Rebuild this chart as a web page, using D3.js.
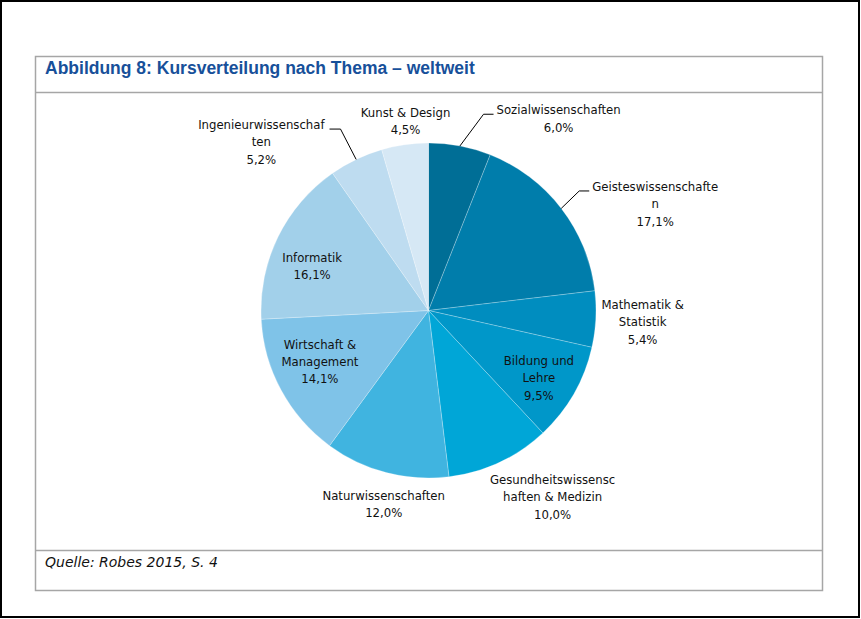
<!DOCTYPE html>
<html>
<head>
<meta charset="utf-8">
<script src="https://cdn.jsdelivr.net/npm/d3@7"></script>
<style>
  html, body { margin: 0; padding: 0; background: #fff; }
  svg { display: block; }
</style>
</head>
<body>
<svg id="chart" width="861" height="619"></svg>
<script>
// ---- data ----
const categories = [
  "Sozialwissenschaften", "Geisteswissenschaften", "Mathematik & Statistik",
  "Bildung und Lehre", "Gesundheitswissenschaften & Medizin", "Naturwissenschaften",
  "Wirtschaft & Management", "Informatik", "Ingenieurwissenschaften", "Kunst & Design"
];
const shares = [6.0, 17.1, 5.4, 9.5, 10.0, 12.0, 14.1, 16.1, 5.2, 4.5];
const shareLabels = ["6,0%", "17,1%", "5,4%", "9,5%", "10,0%", "12,0%", "14,1%", "16,1%", "5,2%", "4,5%"];
// label text as wrapped in the original
const labelLines = [
  ["Sozialwissenschaften"],
  ["Geisteswissenschafte", "n"],
  ["Mathematik &", "Statistik"],
  ["Bildung und", "Lehre"],
  ["Gesundheitswissensc", "haften & Medizin"],
  ["Naturwissenschaften"],
  ["Wirtschaft &", "Management"],
  ["Informatik"],
  ["Ingenieurwissenschaf", "ten"],
  ["Kunst & Design"]
];
const sliceColors = ["#006e96", "#007dab", "#008dbf", "#0097c9", "#00a6d7",
                     "#40b4e0", "#7fc3e8", "#a2d0ea", "#bedcf0", "#d6e8f5"];
const titleText = "Abbildung 8: Kursverteilung nach Thema \u2013 weltweit";
const sourceText = "Quelle: Robes 2015, S. 4";

// ---- layout (label placement: radius factor, pixel nudge, leader line) ----
const labelLayout = [
  {k: 1.15, dx: 94,  dy: -3,   leader: "right"},
  {k: 1.15, dx: 74,  dy: 10.6, leader: "right"},
  {k: 1.28, dx: 0,   dy: 0},
  {k: 0.77, dx: -1.5,dy: 3},
  {k: 1.20, dx: 39,  dy: 4},
  {k: 1.18, dx: 5,   dy: 2},
  {k: 0.72, dx: -2.5,dy: -6.5},
  {k: 0.74, dx: -5,  dy: 10},
  {k: 1.15, dx: -84, dy: 5,    leader: "left"},
  {k: 1.14, dx: 4,   dy: -0.5}
];

const svg = d3.select("#chart");
const W = 861, H = 619;

// outer black frame
svg.append("rect").attr("x", 1).attr("y", 1).attr("width", W - 3).attr("height", H - 3)
  .attr("fill", "none").attr("stroke", "#000").attr("stroke-width", 2);

// inner gray box
const bx0 = 35.5, by0 = 56.5, bx1 = 822.5, by1 = 590.5;
svg.append("rect").attr("x", bx0).attr("y", by0).attr("width", bx1 - bx0).attr("height", by1 - by0)
  .attr("fill", "none").attr("stroke", "#a6a6a6").attr("stroke-width", 1.5);
svg.append("line").attr("x1", bx0).attr("x2", bx1).attr("y1", 92.5).attr("y2", 92.5)
  .attr("stroke", "#a6a6a6").attr("stroke-width", 1.5);
svg.append("line").attr("x1", bx0).attr("x2", bx1).attr("y1", 550.5).attr("y2", 550.5)
  .attr("stroke", "#a6a6a6").attr("stroke-width", 1.5);

// title
svg.append("text").attr("x", 45).attr("y", 73.5)
  .attr("font-family", "'Liberation Sans', Arial, sans-serif").attr("font-weight", "bold")
  .attr("font-size", 17.5).attr("fill", "#17509a").text(titleText);

// source
svg.append("text").attr("x", 45).attr("y", 567)
  .attr("font-family", "'DejaVu Sans', Verdana, sans-serif").attr("font-style", "italic")
  .attr("font-size", 14).attr("fill", "#111").text(sourceText);

// pie
const cx = 428.5, cy = 310.5, R = 167.5;
const g = svg.append("g").attr("transform", `translate(${cx},${cy})`);
const pie = d3.pie().sort(null).value(d => d)(shares);
const arc = d3.arc().innerRadius(0).outerRadius(R);

g.selectAll("path.slice").data(pie).join("path")
  .attr("class", "slice")
  .attr("d", arc)
  .attr("fill", (d, i) => sliceColors[i])
  .attr("stroke", "rgba(255,255,255,0.35)")
  .attr("stroke-width", 0.7);

// labels
const fontFam = "'DejaVu Sans Condensed', 'DejaVu Sans', Verdana, sans-serif";
const fs = 13, lh = 17.3;
const polar = (a, r) => [r * Math.sin(a), -r * Math.cos(a)];

pie.forEach((d, i) => {
  const mid = (d.startAngle + d.endAngle) / 2;
  const L = labelLayout[i];
  const p = polar(mid, L.k * R);
  const lx = p[0] + L.dx, ly = p[1] + L.dy;
  const lines = labelLines[i].concat([shareLabels[i]]);
  const firstBase = ly - (lines.length - 1) * lh / 2 + 4.6;
  const t = g.append("text")
    .attr("font-family", fontFam).attr("font-size", fs).attr("fill", "#111")
    .attr("text-anchor", "middle");
  lines.forEach((s, j) => {
    t.append("tspan").attr("x", lx).attr("y", firstBase + j * lh).text(s);
  });
  if (L.leader) {
    const w0 = t.select("tspan").node().getComputedTextLength();
    const s0 = polar(mid, R);
    const yL = firstBase;
    let pts;
    if (L.leader === "right") {
      const edge = lx - w0 / 2;
      pts = [s0, [edge - 13, yL], [edge - 3, yL]];
    } else {
      const edge = lx + w0 / 2;
      pts = [s0, [edge + 16, yL], [edge + 5, yL]];
    }
    g.append("path").attr("d", d3.line()(pts))
      .attr("fill", "none").attr("stroke", "#000").attr("stroke-width", 1);
  }
});
</script>
</body>
</html>
